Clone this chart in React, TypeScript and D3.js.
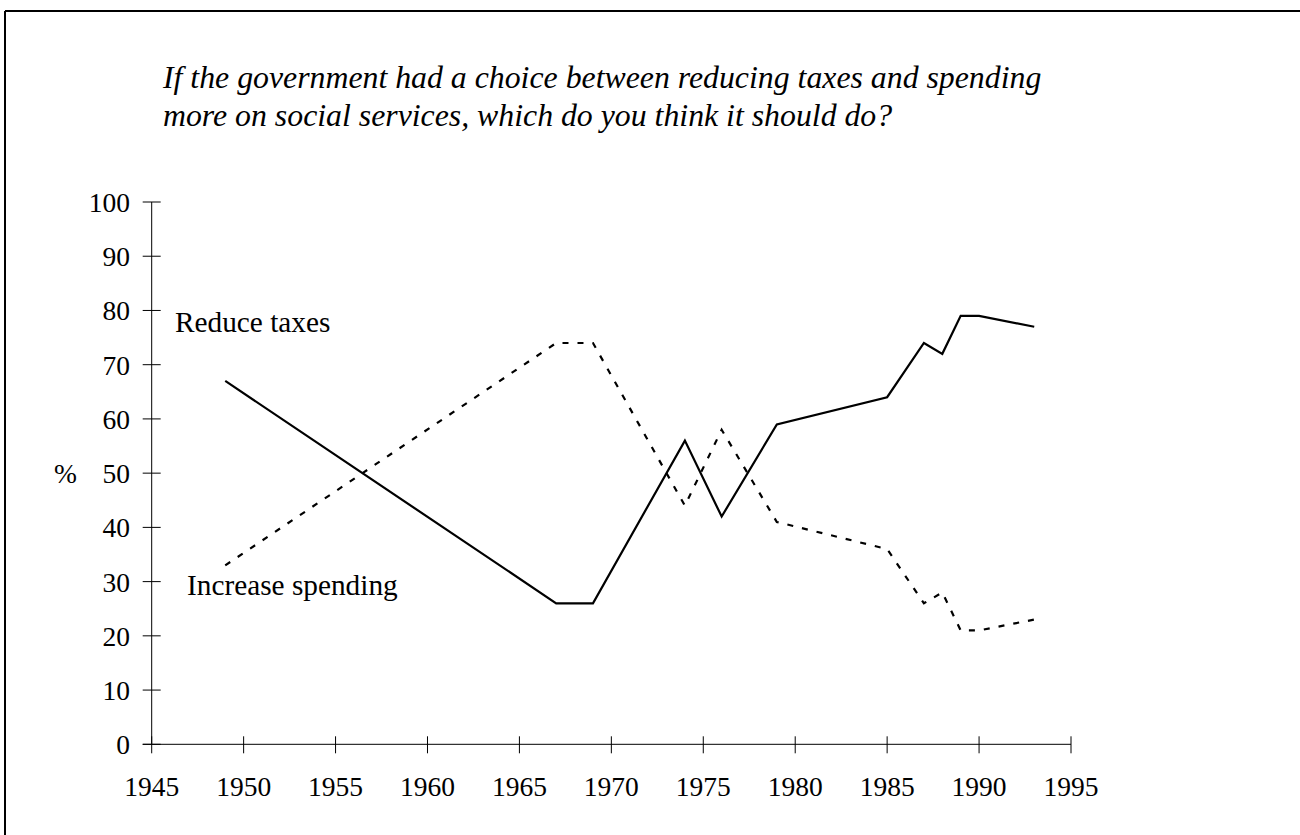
import React from "react";
import * as d3 from "d3";

const titleLines = [
  "If the government had a choice between reducing taxes and spending",
  "more on social services, which do you think it should do?",
];
const years = [1949, 1967, 1969, 1974, 1976, 1979, 1985, 1987, 1988, 1989, 1990, 1993];
const reduceTaxes = [67, 26, 26, 56, 42, 59, 64, 74, 72, 79, 79, 77];
const increaseSpending = [33, 74, 74, 44, 58, 41, 36, 26, 28, 21, 21, 23];
const xTicks = [1945, 1950, 1955, 1960, 1965, 1970, 1975, 1980, 1985, 1990, 1995];
const yTicks = [0, 10, 20, 30, 40, 50, 60, 70, 80, 90, 100];

const W = 1300;
const H = 835;
const FONT = "'Liberation Serif', 'Times New Roman', serif";

export default function App() {
  const x = d3.scaleLinear().domain([1945, 1995]).range([151.7, 1071]);
  const y = d3.scaleLinear().domain([0, 100]).range([744.3, 202]);
  const line = d3
    .line<number>()
    .x((_, i) => x(years[i]))
    .y((d) => y(d));

  return (
    <svg
      width={W}
      height={H}
      style={{ position: "absolute", left: 0, top: 0, background: "#fff" }}
      fontFamily={FONT}
    >
      <rect x={0} y={0} width={W} height={H} fill="#fff" />
      {/* frame */}
      <line x1={5} y1={11} x2={W} y2={11} stroke="#000" strokeWidth={2} />
      <line x1={5} y1={11} x2={5} y2={H} stroke="#000" strokeWidth={2} />

      {/* title */}
      {titleLines.map((t, i) => (
        <text key={i} x={163} y={88 + i * 38} fontSize={31.8} fontStyle="italic" fill="#000">
          {t}
        </text>
      ))}

      {/* y axis */}
      <line x1={x(1945)} y1={y(0)} x2={x(1945)} y2={y(100)} stroke="#000" strokeWidth={1} />
      {yTicks.map((t) => (
        <g key={t}>
          <line x1={x(1945) - 9} x2={x(1945) + 9} y1={y(t)} y2={y(t)} stroke="#000" strokeWidth={1} />
          <text x={130} y={y(t)} dy="0.36em" textAnchor="end" fontSize={27.5} fill="#000">
            {t}
          </text>
        </g>
      ))}
      <text x={54} y={y(50)} dy="0.36em" fontSize={27.5} fill="#000">%</text>

      {/* x axis */}
      <line x1={x(1945) - 9} y1={y(0)} x2={x(1995)} y2={y(0)} stroke="#000" strokeWidth={1} />
      {xTicks.map((t) => (
        <g key={t}>
          <line x1={x(t)} x2={x(t)} y1={y(0) - 8} y2={y(0) + 9} stroke="#000" strokeWidth={1} />
          <text x={x(t)} y={y(0) + 52} textAnchor="middle" fontSize={27.5} fill="#000">
            {t}
          </text>
        </g>
      ))}

      {/* series */}
      <path d={line(reduceTaxes) || ""} fill="none" stroke="#000" strokeWidth={2.2} />
      <path
        d={line(increaseSpending) || ""}
        fill="none"
        stroke="#000"
        strokeWidth={2.2}
        strokeDasharray="6,9"
      />

      {/* labels */}
      <text x={175} y={332} fontSize={29.3} fill="#000">Reduce taxes</text>
      <text x={187} y={595} fontSize={29.3} fill="#000">Increase spending</text>
    </svg>
  );
}
